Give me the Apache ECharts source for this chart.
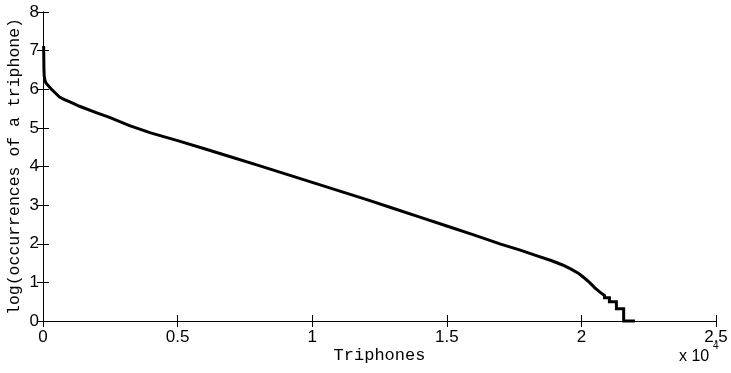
<!DOCTYPE html>
<html>
<head>
<meta charset="utf-8">
<script src="https://cdn.jsdelivr.net/npm/echarts@6/dist/echarts.min.js"></script>
<style>html,body{margin:0;padding:0;background:#fff}#c{width:731px;height:373px}</style>
</head>
<body>
<div id="c"></div>
<script>
// Data
var xValues = [25, 30, 35, 45, 70, 110, 160, 240, 330, 450, 613, 800, 1000, 1200, 1356, 2000, 2470, 3213, 4000, 5000, 6000, 6930, 8000, 9000, 10000, 11000, 12000, 13000, 14000, 15000, 16000, 17000, 17700, 18300, 18900, 19300, 19600, 19900, 20100, 20300, 20500, 20700, 20860, 20860, 21040, 21040, 21300, 21300, 21570, 21570, 21990];
var yValues = [7.12, 6.8, 6.5, 6.34, 6.24, 6.16, 6.11, 6.06, 5.99, 5.91, 5.80, 5.73, 5.67, 5.61, 5.56, 5.39, 5.27, 5.06, 4.87, 4.67, 4.46, 4.26, 4.03, 3.81, 3.59, 3.37, 3.15, 2.92, 2.69, 2.46, 2.23, 1.99, 1.84, 1.70, 1.56, 1.45, 1.35, 1.23, 1.12, 1.00, 0.86, 0.74, 0.66, 0.60, 0.60, 0.50, 0.50, 0.32, 0.32, 0, 0];
var xTickLabels = ['0', '0.5', '1', '1.5', '2', '2.5'];
var yTickLabels = ['0', '1', '2', '3', '4', '5', '6', '7', '8'];
var xName = 'Triphones';
var yName = 'log(occurrences of a triphone)';
var xExponent = 'x 10';
var xExponentPower = '4';

var seriesData = xValues.map(function (x, i) { return [x, yValues[i]]; });

var chart = echarts.init(document.getElementById('c'), null, { renderer: 'canvas' });
var axisLine = { show: true, lineStyle: { color: '#000', width: 1 } };
var axisTick = { show: true, inside: true, length: 6, lineStyle: { color: '#000', width: 1 } };
var sansFamily = 'Liberation Sans';
var monoFamily = 'Liberation Mono';

chart.setOption({
  animation: false,
  backgroundColor: '#fff',
  grid: { left: 43, right: 15, top: 12, bottom: 52, containLabel: false, outerBoundsMode: 'none' },
  xAxis: [
    {
      type: 'value', min: 0, max: 25000, interval: 5000, position: 'bottom',
      axisLine: axisLine, axisTick: axisTick, splitLine: { show: false },
      axisLabel: { margin: 8, color: '#000', fontSize: 17, fontFamily: sansFamily, formatter: function (v) { return xTickLabels[Math.round(v / 5000)]; } },
      name: xName, nameLocation: 'middle', nameGap: 26, nameMoveOverlap: false,
      nameTextStyle: { color: '#000', fontSize: 17, fontFamily: monoFamily }
    },
    {
      type: 'value', min: 0, max: 25000, interval: 5000, position: 'top',
      axisLine: axisLine, axisTick: axisTick, splitLine: { show: false },
      axisLabel: { show: false }
    }
  ],
  yAxis: [
    {
      type: 'value', min: 0, max: 8, interval: 1, position: 'left',
      axisLine: axisLine, axisTick: axisTick, splitLine: { show: false },
      axisLabel: { margin: 4, color: '#000', fontSize: 17, fontFamily: sansFamily, formatter: function (v) { return yTickLabels[Math.round(v)]; } },
      name: yName, nameLocation: 'middle', nameGap: 20, nameRotate: 90, nameMoveOverlap: false,
      nameTextStyle: { color: '#000', fontSize: 16.5, fontFamily: monoFamily }
    },
    {
      type: 'value', min: 0, max: 8, interval: 1, position: 'right',
      axisLine: axisLine, axisTick: axisTick, splitLine: { show: false },
      axisLabel: { show: false }
    }
  ],
  series: [{
    type: 'line',
    data: seriesData,
    xAxisIndex: 0, yAxisIndex: 0,
    showSymbol: false, symbol: 'none',
    clip: false,
    lineStyle: { color: '#000', width: 3, join: 'miter' }
  }],
  graphic: [
    { type: 'text', left: 679, top: 349, style: { text: xExponent, fill: '#000', fontSize: 16, fontFamily: sansFamily } },
    { type: 'text', left: 713, top: 341, style: { text: xExponentPower, fill: '#000', fontSize: 10, fontFamily: sansFamily } }
  ]
});
</script>
</body>
</html>
